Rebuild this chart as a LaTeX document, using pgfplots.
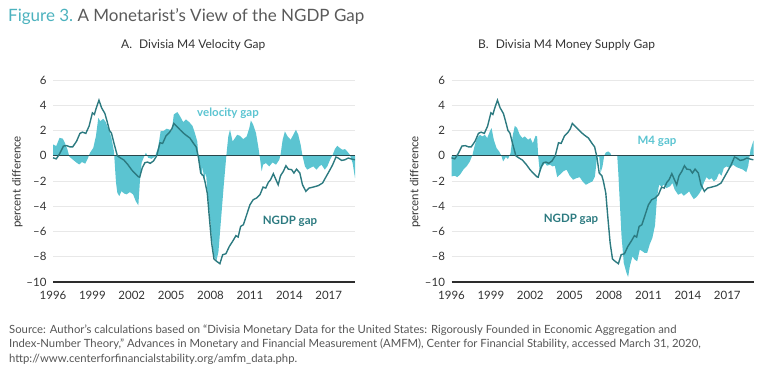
\documentclass[border=0pt]{standalone}
\usepackage{fontspec}
\setmainfont{Lato}
\usepackage{pgfplots}
\usepackage{pgfplotstable}
\pgfplotsset{compat=1.18}

\definecolor{gapfill}{RGB}{91,196,209}
\definecolor{ngdp}{RGB}{44,122,128}
\definecolor{zeroline}{RGB}{40,70,75}
\definecolor{botline}{RGB}{45,45,45}
\definecolor{gridgray}{RGB}{232,232,232}
\definecolor{labelgray}{RGB}{51,51,51}
\definecolor{titleteal}{RGB}{76,178,190}
\definecolor{titlegray}{RGB}{90,90,90}
\definecolor{srcgray}{RGB}{85,85,85}

\pgfplotstableread{
x y
1996.0 -0.16
1996.25 -0.25
1996.5 0.15
1996.8 0.77
1997.05 0.8
1997.3 0.7
1997.5 0.7
1997.8 1.16
1998.05 1.77
1998.25 1.87
1998.5 1.77
1998.75 2.35
1999.0 3.4
1999.15 3.27
1999.3 3.8
1999.5 4.4
1999.7 3.8
1999.95 3.35
2000.1 2.8
2000.3 2.0
2000.45 1.8
2000.65 0.97
2000.9 0
2001.1 -0.15
2001.4 -0.34
2001.7 -0.7
2002.0 -1.13
2002.25 -1.4
2002.5 -1.66
2002.6 -1.7
2002.8 -0.95
2003.0 -0.55
2003.2 -0.5
2003.4 -0.6
2003.65 -0.42
2003.9 0
2004.15 1.03
2004.35 0.98
2004.6 1.56
2004.85 1.82
2005.05 2.14
2005.2 2.56
2005.4 2.35
2005.7 2.03
2006.05 1.69
2006.43 1.4
2006.7 0.98
2006.9 0.7
2007.07 -0.1
2007.25 -1.37
2007.45 -1.58
2007.57 -2.03
2007.75 -2.96
2007.9 -4.8
2008.08 -6.9
2008.26 -8.18
2008.46 -8.36
2008.71 -8.55
2008.92 -7.84
2009.17 -7.76
2009.43 -7.18
2009.68 -6.78
2009.93 -6.33
2010.1 -6.44
2010.29 -5.6
2010.5 -5.46
2010.75 -4.67
2011.0 -3.88
2011.25 -3.48
2011.5 -3.35
2011.76 -3.09
2012.0 -2.48
2012.2 -2.56
2012.4 -2.11
2012.57 -1.9
2012.78 -1.42
2012.98 -1.9
2013.15 -2.3
2013.33 -1.58
2013.54 -1.24
2013.74 -0.79
2013.92 -1.06
2014.17 -1.1
2014.35 -1.37
2014.55 -1.06
2014.8 -1.37
2015.0 -2.3
2015.26 -2.82
2015.5 -2.56
2015.82 -2.48
2016.2 -2.37
2016.53 -2.16
2016.84 -1.58
2017.1 -1.1
2017.3 -0.71
2017.55 -0.1
2017.72 -0.18
2017.98 -0.37
2018.23 -0.32
2018.49 -0.18
2018.74 -0.26
2018.99 -0.32
}\ngdptable

\pgfplotstableread{
x y
1996.0 0
1996.0 0.9
1996.25 0.77
1996.5 1.42
1996.75 1.35
1996.9 1.03
1997.1 0.5
1997.25 -0.08
1997.55 -0.34
1997.8 -0.55
1998.0 -0.69
1998.2 -0.5
1998.45 -0.63
1998.62 -0.29
1998.82 0.24
1999.07 0.63
1999.27 1.56
1999.45 3.0
1999.6 2.74
1999.83 2.93
2000.0 2.7
2000.3 1.95
2000.45 1.42
2000.64 0.37
2000.8 -2.14
2000.9 -2.93
2001.05 -3.19
2001.22 -2.8
2001.4 -2.98
2001.6 -3.06
2001.86 -2.88
2002.1 -3.06
2002.3 -3.59
2002.5 -3.93
2002.62 -2.0
2002.75 -0.55
2002.9 -0.16
2003.08 0.24
2003.25 -0.16
2003.5 -0.24
2003.76 -0.08
2004.0 0.63
2004.2 1.95
2004.4 1.95
2004.65 2.14
2004.85 2.08
2005.04 1.95
2005.2 3.27
2005.47 3.46
2005.67 3.14
2005.92 2.66
2006.12 2.88
2006.38 2.66
2006.63 2.35
2006.8 1.82
2006.99 1.13
2007.07 0
2007.19 -1.1
2007.32 -1.64
2007.4 -0.84
2007.5 -1.9
2007.65 -1.37
2007.75 -2.69
2007.9 -4.27
2008.08 -6.39
2008.26 -7.97
2008.45 -8.3
2008.6 -7.6
2008.8 -5.0
2009.0 -2.4
2009.2 0
2009.35 1.53
2009.48 2.06
2009.68 1.13
2009.86 1.4
2010.03 1.66
2010.24 1.58
2010.49 1.32
2010.75 1.53
2010.95 2.19
2011.07 2.8
2011.25 2.45
2011.46 1.79
2011.63 0.74
2011.76 -0.18
2011.89 -1.24
2012.0 -0.71
2012.22 -0.58
2012.47 -0.84
2012.72 -0.53
2012.98 -0.71
2013.23 -0.32
2013.33 0.08
2013.49 1.27
2013.66 1.93
2013.87 1.53
2014.1 1.27
2014.3 1.66
2014.5 2.06
2014.68 1.66
2014.86 0.87
2015.0 0
2015.19 -0.84
2015.36 -1.1
2015.57 -0.98
2015.82 -0.84
2016.07 -1.1
2016.28 -0.84
2016.45 -0.71
2016.7 -1.1
2016.89 -0.84
2017.1 -0.32
2017.3 0.08
2017.47 0.53
2017.65 0.79
2017.85 0.61
2018.05 0.47
2018.23 0.53
2018.41 0.34
2018.61 0.08
2018.82 -0.58
2019.0 -1.77
2019.0 0
}\veltable

\pgfplotstableread{
x y
1996.0 0
1996.0 -1.64
1996.25 -1.58
1996.43 -1.69
1996.65 -1.5
1996.9 -1.1
1997.15 -0.84
1997.4 -0.45
1997.6 0.08
1997.78 0.87
1997.95 1.4
1998.16 1.66
1998.35 1.53
1998.54 1.66
1998.72 1.4
1998.92 1.93
1999.05 2.19
1999.22 1.27
1999.43 0.61
1999.63 0.34
1999.8 0
1999.93 -0.45
2000.14 -0.1
2000.3 -0.26
2000.5 0.21
2000.65 1.53
2000.82 2.37
2001.0 2.19
2001.2 1.66
2001.4 1.4
2001.58 1.53
2001.84 1.27
2002.0 1.4
2002.2 1.0
2002.4 1.58
2002.52 1.53
2002.6 0
2002.73 -1.37
2002.93 -0.84
2003.1 -0.58
2003.28 -0.79
2003.5 -0.71
2003.7 -0.84
2003.87 -0.79
2004.05 -1.69
2004.25 -1.5
2004.5 -1.24
2004.76 -1.1
2005.0 -1.58
2005.26 -1.9
2005.52 -1.77
2005.77 -1.7
2005.98 -2.03
2006.23 -2.3
2006.48 -2.16
2006.74 -2.03
2006.92 -1.64
2007.09 -0.05
2007.25 -0.1
2007.35 -1.37
2007.5 -0.84
2007.63 0
2007.75 0.26
2007.93 0.34
2008.1 0.21
2008.18 0
2008.62 0
2008.69 -1.1
2008.82 -3.75
2008.95 -6.39
2009.12 -8.5
2009.33 -9.29
2009.45 -9.6
2009.58 -8.76
2009.78 -7.97
2009.96 -8.23
2010.14 -8.36
2010.34 -7.44
2010.54 -7.57
2010.72 -7.7
2010.9 -7.7
2011.1 -7.0
2011.3 -6.5
2011.5 -5.5
2011.65 -3.3
2011.81 -2.3
2012.0 -2.43
2012.17 -2.3
2012.37 -2.56
2012.63 -2.43
2012.83 -2.16
2013.0 -2.69
2013.26 -3.09
2013.51 -2.96
2013.69 -3.17
2013.9 -3.0
2014.1 -2.82
2014.28 -3.17
2014.45 -3.43
2014.66 -3.27
2014.86 -3.0
2015.04 -2.69
2015.21 -2.16
2015.42 -1.69
2015.62 -1.9
2015.8 -1.77
2015.98 -2.03
2016.18 -1.85
2016.38 -1.37
2016.56 -1.58
2016.74 -0.98
2016.94 -0.84
2017.19 -0.98
2017.45 -0.71
2017.7 -0.9
2017.95 -1.0
2018.2 -1.1
2018.45 -1.3
2018.6 -0.8
2018.77 0.47
2019.0 1.2
2019.0 0
}\mfourtable

\pgfplotsset{
  gapaxis/.style={
    scale only axis, width=302bp, height=202bp,
    anchor=south west,
    xmin=1996, xmax=2019, ymin=-10, ymax=6,
    axis line style={draw=none},
    major tick style={draw=none},
    xtick={1996,1999,2002,2005,2008,2011,2014,2017},
    xticklabels={1996,1999,2002,2005,2008,2011,2014,2017},
    ytick={-10,-8,-6,-4,-2,0,2,4,6},
    yticklabels={–10,–8,–6,–4,–2,0,2,4,6},
    ymajorgrids,
    major grid style={gridgray, line width=0.8bp},
    tick label style={font=\fontsize{11.5bp}{13bp}\selectfont, text=labelgray},
    xticklabel style={yshift=-6bp},
    yticklabel style={xshift=-3bp},
    clip=false,
  }
}

\begin{document}
\begin{tikzpicture}[x=1bp,y=1bp]
\useasboundingbox (0,0) rectangle (768,375);

% Title
\node[anchor=base west, inner sep=0pt] at (8,353.3)
  {\fontsize{17bp}{19bp}\selectfont\color{titleteal}Figure 3.\ \color{titlegray}A Monetarist’s View of the NGDP Gap};
\node[anchor=base west, inner sep=0pt, text=labelgray] at (121,327)
  {\fontsize{12bp}{14bp}\selectfont A.\hspace{7bp}Divisia M4 Velocity Gap};
\node[anchor=base west, inner sep=0pt, text=labelgray] at (478,327)
  {\fontsize{12bp}{14bp}\selectfont B.\hspace{7bp}Divisia M4 Money Supply Gap};

% Left panel
\begin{axis}[gapaxis, at={(53bp,93bp)}]
\addplot[fill=gapfill, draw=none] table[x=x,y=y] {\veltable} \closedcycle;
\addplot[zeroline, line width=1.2bp] coordinates {(1996,0) (2019,0)};
\addplot[ngdp, line width=1.4bp] table[x=x,y=y] {\ngdptable};
\addplot[botline, line width=1.5bp] coordinates {(1996,-10) (2019,-10)};
\end{axis}

% Right panel
\begin{axis}[gapaxis, at={(451.5bp,93bp)}]
\addplot[fill=gapfill, draw=none] table[x=x,y=y] {\mfourtable} \closedcycle;
\addplot[zeroline, line width=1.2bp] coordinates {(1996,0) (2019,0)};
\addplot[ngdp, line width=1.4bp] table[x=x,y=y] {\ngdptable};
\addplot[botline, line width=1.5bp] coordinates {(1996,-10) (2019,-10)};
\end{axis}

% y labels
\node[rotate=90, text=labelgray] at (17.5,193) {\fontsize{11.5bp}{13bp}\selectfont percent difference};
\node[rotate=90, text=labelgray] at (415,193) {\fontsize{11.5bp}{13bp}\selectfont percent difference};

% series labels
\node[text=gapfill] at (228,262) {\fontsize{11.5bp}{13bp}\selectfont\bfseries velocity gap};
\node[text=ngdp] at (290,154) {\fontsize{11.5bp}{13bp}\selectfont\bfseries NGDP gap};
\node[text=gapfill] at (657,234) {\fontsize{11.5bp}{13bp}\selectfont\bfseries M4 gap};
\node[text=ngdp] at (571,156) {\fontsize{11.5bp}{13bp}\selectfont\bfseries NGDP gap};

% source
\begin{scope}[every node/.style={anchor=base west, inner sep=0pt, text=srcgray, font=\fontsize{11.3bp}{13bp}\selectfont}]
\node at (9,41.7) {Source: Author’s calculations based on “Divisia Monetary Data for the United States: Rigorously Founded in Economic Aggregation and};
\node at (9,27.3) {Index-Number Theory,” Advances in Monetary and Financial Measurement (AMFM), Center for Financial Stability, accessed March 31, 2020,};
\node at (9,12.3) {http://www.centerforfinancialstability.org/amfm\_data.php.};
\end{scope}
\end{tikzpicture}
\end{document}
